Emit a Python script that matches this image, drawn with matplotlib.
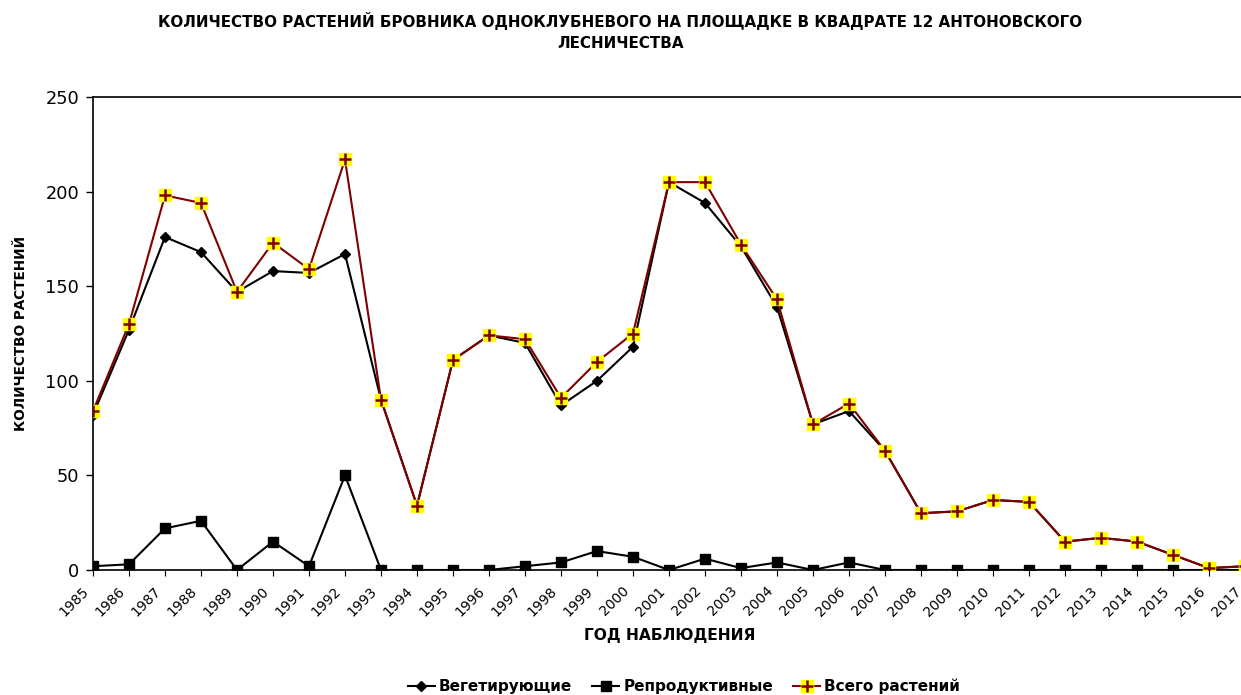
import matplotlib
matplotlib.use('Agg')
import matplotlib.pyplot as plt
from matplotlib.legend_handler import HandlerTuple
from matplotlib.lines import Line2D
from matplotlib.transforms import ScaledTranslation

plt.rcParams['font.family'] = ['DejaVu Sans']

years = list(range(1985, 2018))
vegetative = [82, 127, 176, 168, 147, 158, 157, 167, 90, 34,
              111, 124, 120, 87, 100, 118, 205, 194, 171, 139,
              77, 84, 63, 30, 31, 37, 36, 15, 17, 15,
              8, 1, 2]
reproductive = [2, 3, 22, 26, 0, 15, 2, 50, 0, 0,
                0, 0, 2, 4, 10, 7, 0, 6, 1, 4,
                0, 4, 0, 0, 0, 0, 0, 0, 0, 0,
                0, 0, 0]
total = [84, 130, 198, 194, 147, 173, 159, 217, 90, 34,
         111, 124, 122, 91, 110, 125, 205, 205, 172, 143,
         77, 88, 63, 30, 31, 37, 36, 15, 17, 15,
         8, 1, 2]

titleText = 'КОЛИЧЕСТВО РАСТЕНИЙ БРОВНИКА ОДНОКЛУБНЕВОГО НА ПЛОЩАДКЕ В КВАДРАТЕ 12 АНТОНОВСКОГО\nЛЕСНИЧЕСТВА'
labelVeg = 'Вегетирующие'
labelRep = 'Репродуктивные'
labelTot = 'Всего растений'

fig = plt.figure(figsize=(12.41, 6.95), dpi=100)
ax = fig.add_axes([93/1241, 125/695, 1152/1241, 473/695])

darkRed = '#7f0000'
ax.plot(years, reproductive, color='black', lw=1.5, marker='s', ms=7, zorder=3)
ax.plot(years, vegetative, color='black', lw=1.5, marker='D', ms=5.5, zorder=4)
ax.plot(years, total, color=darkRed, lw=1.5, zorder=5)
ax.plot(years, total, ls='none', marker='s', ms=8, mfc='yellow', mec='yellow', zorder=6)
ax.plot(years, total, ls='none', marker='+', ms=8, mew=1.8, color=darkRed, zorder=7)

ax.set_xlim(1985, 2017)
ax.set_ylim(0, 250)
ax.set_yticks([0, 50, 100, 150, 200, 250])
ax.set_xticks(years)
ax.set_xticklabels([str(y) for y in years], rotation=45, ha='right', rotation_mode='anchor', fontsize=10)
ax.tick_params(axis='y', labelsize=12.8, length=5, width=1, direction='out', pad=5)
ax.tick_params(axis='x', length=4, width=0.8, direction='out', pad=6)

# shift the rotated year labels a bit to the left, like the original
shift = ScaledTranslation(-11/100, 0, fig.dpi_scale_trans)
for lab in ax.get_xticklabels():
    lab.set_transform(lab.get_transform() + shift)

for s in ['left', 'bottom', 'top']:
    ax.spines[s].set_linewidth(1.2)
ax.spines['right'].set_visible(False)

fig.text(0.5, 0.983, titleText, ha='center', va='top', fontsize=10.9, fontweight='bold', linespacing=1.5)
fig.text(0.54, 0.085, 'ГОД НАБЛЮДЕНИЯ', ha='center', va='center', fontsize=11.2, fontweight='bold')
fig.text(0.017, 0.52, 'КОЛИЧЕСТВО РАСТЕНИЙ', ha='center', va='center', rotation=90, fontsize=9.8, fontweight='bold')

hVeg = Line2D([], [], color='black', lw=1.5, marker='D', ms=5.5)
hRep = Line2D([], [], color='black', lw=1.5, marker='s', ms=7)
hTotLine = Line2D([], [], color=darkRed, lw=1.5)
hTotSq = Line2D([], [], ls='none', marker='s', ms=8, mfc='yellow', mec='yellow')
hTotPlus = Line2D([], [], ls='none', marker='+', ms=8, mew=1.8, color=darkRed)
fig.legend([hVeg, hRep, (hTotLine, hTotSq, hTotPlus)], [labelVeg, labelRep, labelTot],
           handler_map={tuple: HandlerTuple(ndivide=1, pad=0)},
           loc='center', bbox_to_anchor=(0.551, 0.012), ncol=3, frameon=False,
           prop={'weight': 'bold', 'size': 11}, handlelength=1.8, handletextpad=0.25, columnspacing=1.3)

fig.savefig('out.png', dpi=100)
